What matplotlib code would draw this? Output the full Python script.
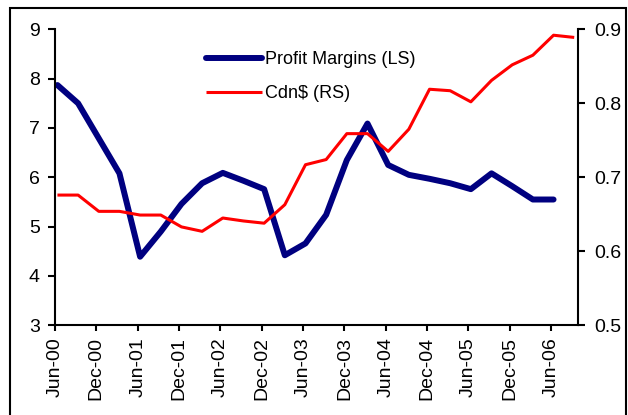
import numpy as np
import matplotlib
matplotlib.use("Agg")
import matplotlib.pyplot as plt
from matplotlib.patches import Rectangle

plt.rcParams['font.family'] = ['Liberation Sans', 'DejaVu Sans']

# Quarterly data, Jun-00 onwards
profit_margins = [7.87, 7.50, 6.79, 6.08, 4.39, 4.90, 5.46, 5.88, 6.09, 5.93,
                  5.76, 4.42, 4.66, 5.24, 6.35, 7.09, 6.25, 6.05, 5.97, 5.88,
                  5.76, 6.08, 5.82, 5.55, 5.55]
cdn_dollar = [0.676, 0.676, 0.654, 0.654, 0.649, 0.649, 0.633, 0.627, 0.645, 0.641,
              0.638, 0.663, 0.717, 0.724, 0.759, 0.759, 0.735, 0.765, 0.819, 0.817,
              0.802, 0.831, 0.852, 0.865, 0.892, 0.889]
tick_labels = ["Jun-00", "Dec-00", "Jun-01", "Dec-01", "Jun-02", "Dec-02", "Jun-03",
               "Dec-03", "Jun-04", "Dec-04", "Jun-05", "Dec-05", "Jun-06"]

# months since Jun-00
x_pm = np.arange(len(profit_margins)) * 3 + 0.35
x_cd = np.arange(len(cdn_dollar)) * 3 + 0.35
tick_pos = np.arange(len(tick_labels)) * 6

fig = plt.figure(figsize=(6.28, 4.15), dpi=100)
ax = fig.add_axes([0.0876, 0.2161, 0.8328, 0.7133])
ax2 = ax.twinx()

l1, = ax.plot(x_pm, profit_margins, color='#000080', lw=4.3, solid_capstyle='round',
              solid_joinstyle='round', label='Profit Margins (LS)')
l2, = ax2.plot(x_cd, cdn_dollar, color='#FF0000', lw=2.2, solid_capstyle='butt',
               label='Cdn$ (RS)')

ax.set_xlim(0, 75.9)
ax.set_ylim(3, 9)
ax2.set_ylim(0.5, 0.9)
ax.set_yticks(range(3, 10))
ax2.set_yticks([0.5, 0.6, 0.7, 0.8, 0.9])
ax2.set_yticklabels(["0.5", "0.6", "0.7", "0.8", "0.9"])
ax.set_xticks(tick_pos)
ax.set_xticklabels(tick_labels, rotation=90)

for a in (ax, ax2):
    for s in a.spines.values():
        s.set_linewidth(1.5)
    a.spines['top'].set_visible(False)
ax.spines['right'].set_visible(False)
ax2.spines['left'].set_visible(False)
ax2.spines['bottom'].set_visible(False)

ax.tick_params(axis='y', direction='out', length=5, width=1.5, labelsize=14, pad=6)
ax.tick_params(axis='x', direction='out', length=4.5, width=1.5, labelsize=14, pad=4)
ax2.tick_params(axis='y', direction='out', length=5, width=1.5, labelsize=14, pad=7)

leg = ax.legend(handles=[l1, l2], loc='upper left', bbox_to_anchor=(0.275, 0.95),
                frameon=False, fontsize=13, handlelength=3.1, handletextpad=0.15,
                labelspacing=0.92, borderaxespad=0)
leg.set_zorder(5)

# outer chart frame
fig.patches.append(Rectangle((10 / 628, -0.05), 616 / 628, 1 - 8 / 415 + 0.05,
                             transform=fig.transFigure, fill=False,
                             edgecolor='black', linewidth=1.5, zorder=0))

fig.savefig('out.png', dpi=100)
